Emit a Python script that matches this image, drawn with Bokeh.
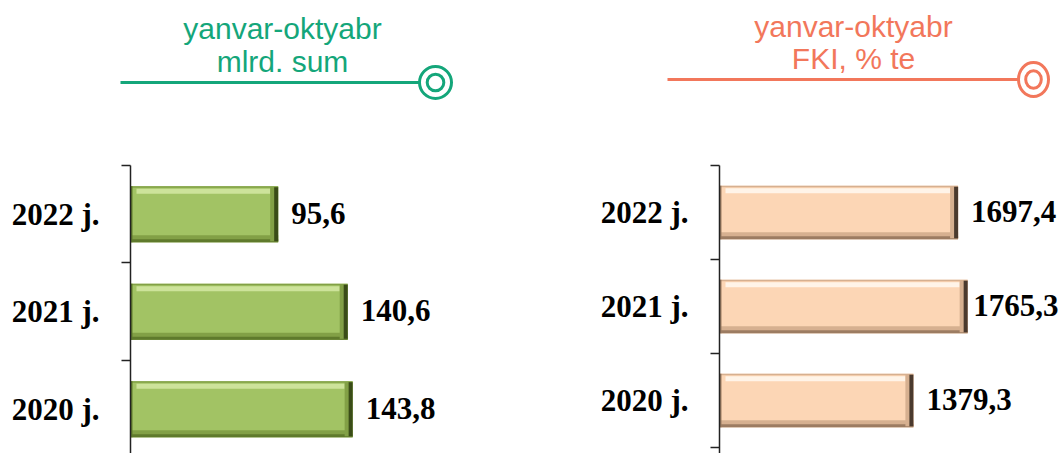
from bokeh.plotting import figure
from bokeh.layouts import row, column
from bokeh.models import Range1d, FixedTicker
from bokeh.core.properties import value
from bokeh.embed import file_html
from bokeh.resources import INLINE

# ---- data ----
years = ["2020 j.", "2021 j.", "2022 j."]
sum_values = [143.8, 140.6, 95.6]          # mlrd. sum
fki_values = [1379.3, 1765.3, 1697.4]      # FKI, % te
left_title = ["yanvar-oktyabr", "mlrd. sum"]
right_title = ["yanvar-oktyabr", "FKI, % te"]

GREEN = "#14a67a"
SALMON = "#f2775b"
SERIF = value("Liberation Serif")
SANS = value("Liberation Sans")

W, H_HDR, H_CH = 1062, 150, 303


def fmt(v):
    return f"{v:.1f}".replace(".", ",")


# ---- header (decoration) ----
hdr = figure(width=W, height=H_HDR, x_range=Range1d(0, W), y_range=Range1d(H_HDR, 0),
             output_backend="svg", toolbar_location=None,
             x_axis_location=None, y_axis_location=None,
             min_border=0, min_border_left=0, min_border_right=0,
             min_border_top=0, min_border_bottom=0)
hdr.outline_line_color = None
hdr.grid.visible = False


def header(lines, color, text_x, bases, line_x0, cx, cy, ew, eh):
    hdr.text(x=[text_x] * len(lines), y=bases, text=lines, text_align="center",
             text_baseline="alphabetic", text_font=SANS, text_font_size="30px",
             text_color=color)
    hdr.segment(x0=[line_x0], y0=[cy], x1=[cx - ew / 2], y1=[cy], line_width=3, line_color=color)
    hdr.ellipse(x=[cx], y=[cy], width=[ew], height=[eh], fill_color=None,
                line_color=color, line_width=3)
    hdr.ellipse(x=[cx], y=[cy], width=[ew * 0.52], height=[eh * 0.52], fill_color=None,
                line_color=color, line_width=3)


header(left_title, GREEN, 282, [28, 61], 120, 435, 82, 32, 32)
header(right_title, SALMON, 853, [26, 58], 667, 1033, 79, 30, 34)


# ---- bar charts ----
def chart(vals, width, border_left, x_end, y_start, bar_h, pal, label_pad):
    top_border = 15
    p = figure(width=width, height=H_CH, x_range=Range1d(0, x_end), y_range=Range1d(y_start, 2.5),
               output_backend="svg", toolbar_location=None, x_axis_location=None,
               min_border_left=border_left, min_border_right=0,
               min_border_top=top_border, min_border_bottom=0)
    p.outline_line_color = None
    p.grid.visible = False
    ax = p.yaxis[0]
    ax.ticker = FixedTicker(ticks=[0, 1, 2], minor_ticks=[-0.5, 0.5, 1.5, 2.5])
    ax.major_label_overrides = {i: years[i] for i in range(len(years))}
    ax.major_tick_out = 0
    ax.major_tick_in = 0
    ax.minor_tick_out = 9
    ax.minor_tick_in = 0
    ax.minor_tick_line_color = "#222222"
    ax.minor_tick_line_width = 1.5
    ax.axis_line_color = "#222222"
    ax.axis_line_width = 1.5
    ax.major_label_standoff = 22
    ax.major_label_text_font = "Liberation Serif"
    ax.major_label_text_font_size = "31px"
    ax.major_label_text_font_style = "bold"
    ax.major_label_text_color = "black"

    frame_w = width - border_left
    frame_h = H_CH - top_border
    sx = frame_w / x_end                 # px per x unit
    sy = frame_h / (2.5 - y_start)       # px per y unit
    px = lambda n: n / sx
    py = lambda n: n / sy

    ys = list(range(len(vals)))
    base, light, shade, dark, mid = pal
    top = [y + bar_h / 2 for y in ys]
    bot = [y - bar_h / 2 for y in ys]
    # base bar
    p.hbar(y=ys, left=0, right=vals, height=bar_h, fill_color=base, line_color=None)
    # bottom shade (two tones)
    p.hbar(y=[b + py(3.5) for b in bot], left=px(1), right=vals, height=py(7),
           fill_color=mid, line_color=None)
    p.hbar(y=[b + py(1.5) for b in bot], left=0, right=vals, height=py(3),
           fill_color=shade, line_color=None)
    # top highlight
    p.hbar(y=[t - py(0.75) for t in top], left=0, right=vals, height=py(1.5),
           fill_color=mid, line_color=None)
    p.hbar(y=[t - py(5) for t in top], left=px(6), right=[v - px(8) for v in vals],
           height=py(5), fill_color=light, line_color=None)
    # right dark edge (two tones)
    p.hbar(y=ys, left=[v - px(8) for v in vals], right=vals, height=bar_h - py(2),
           fill_color=mid, line_color=None)
    p.hbar(y=ys, left=[v - px(4) for v in vals], right=vals, height=bar_h - py(2),
           fill_color=dark, line_color=None)
    # left edge
    p.hbar(y=ys, left=0, right=px(2), height=bar_h, fill_color=shade, line_color=None)

    # value labels
    labs = [fmt(v) for v in vals]
    lx, al = [], []
    for v, t in zip(vals, labs):
        wpx = (len(t) - 1) * 15.5 + 7.75
        if v * sx + label_pad + wpx > frame_w:
            lx.append(x_end - px(4)); al.append("right")
        else:
            lx.append(v + px(label_pad)); al.append("left")
    p.text(x=lx, y=ys, text=labs, text_align=al, text_baseline="middle",
           text_font=SERIF, text_font_size="31px", text_font_style="bold",
           text_color="black", y_offset=-1)
    return p


cL = chart(sum_values, 580, 130, 291.3, -0.454, 0.575,
           ("#a2c364", "#cde39a", "#5f7a2c", "#3a4c18", "#82a046"), 13)
cR = chart(fki_values, W - 580, 139, 2440, -0.564, 0.57,
           ("#fcd6b5", "#fff4e8", "#9c7c62", "#4a3a2e", "#d6b090"), 13)

layout = column(hdr, row(cL, cR))
open("out.html", "w").write(file_html(layout, INLINE))
